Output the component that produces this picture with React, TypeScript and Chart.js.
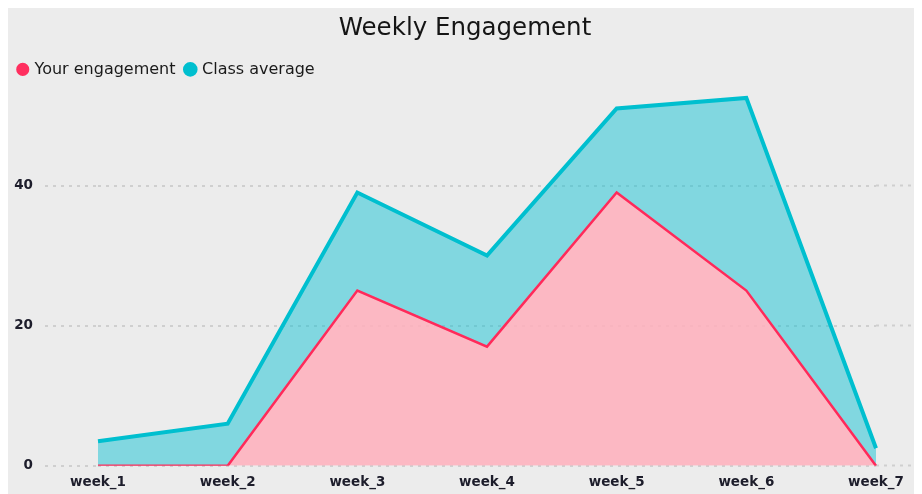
import React, { useEffect, useRef } from "react";
import { Chart, registerables } from "chart.js";

Chart.register(...registerables);

const weeks = ["week_1", "week_2", "week_3", "week_4", "week_5", "week_6", "week_7"];
const yourEngagement = [0, 0, 25, 17, 39, 25, 0];
const classAverage = [3.5, 6, 39, 30, 51, 52.5, 2.5];
const yMax = 54;
const yStep = 20;

const FONT = "'DejaVu Sans', Verdana, sans-serif";
const gridColor = "#cfcfcf";
const dash = [3, 5];

export default function App() {
  const ref = useRef<HTMLCanvasElement | null>(null);

  useEffect(() => {
    if (!ref.current) return;
    const chart = new Chart(ref.current, {
      type: "line",
      data: {
        labels: weeks,
        datasets: [
          {
            label: "Your engagement",
            data: yourEngagement,
            borderColor: "#ff2a5a",
            backgroundColor: "rgba(255, 175, 188, 0.85)",
            pointBackgroundColor: "#ff2f5f",
            pointBorderColor: "#ff2f5f",
            borderWidth: 2.5,
            pointRadius: 0,
            tension: 0,
            fill: "origin",
            yAxisID: "y",
          },
          {
            label: "Class average",
            data: classAverage,
            borderColor: "#00bfcf",
            backgroundColor: "rgba(0, 190, 210, 0.45)",
            pointBackgroundColor: "#00bfcf",
            pointBorderColor: "#00bfcf",
            borderWidth: 4,
            pointRadius: 0,
            tension: 0,
            fill: "-1",
            yAxisID: "y",
          },
        ],
      },
      options: {
        responsive: false,
        animation: false,
        layout: { padding: { left: 0, right: 0, top: 0, bottom: -6 } },
        plugins: {
          title: {
            display: true,
            text: "Weekly Engagement",
            color: "#151515",
            font: { family: FONT, size: 24.5, weight: "normal" },
            padding: { top: 6, bottom: 7 },
          },
          legend: {
            display: true,
            position: "top",
            align: "start",
            labels: {
              usePointStyle: true,
              pointStyle: "circle",
              boxWidth: 7.5,
              boxHeight: 7.5,
              padding: 11,
              color: "#1a1a1a",
              font: { family: FONT, size: 16 },
            },
          },
          tooltip: { enabled: false },
        },
        scales: {
          x: {
            type: "category",
            offset: false,
            grid: { display: false, drawTicks: false },
            border: { display: false },
            ticks: {
              color: "#1d1d2b",
              font: { family: FONT, size: 13.5, weight: "bold" },
              padding: 9,
              maxRotation: 0,
              autoSkip: false,
            },
          },
          y: {
            position: "left",
            min: 0,
            max: yMax,
            border: { display: false, dash: dash },
            grid: {
              color: gridColor,
              lineWidth: 2,
              tickLength: 53,
              tickColor: gridColor,
              tickWidth: 2,
              tickBorderDash: dash,
            },
            ticks: {
              stepSize: yStep,
              includeBounds: false,
              color: "#1d1d2b",
              font: { family: FONT, size: 13.5, weight: "bold" },
              padding: 12,
            },
            afterFit: (s: any) => {
              s.width = 90;
            },
          } as any,
          y1: {
            position: "right",
            min: 0,
            max: yMax,
            border: { display: false, dash: dash },
            grid: {
              drawOnChartArea: false,
              tickLength: 44,
              tickColor: gridColor,
              tickWidth: 2,
              tickBorderDash: dash,
            },
            ticks: { display: false, stepSize: yStep, includeBounds: false },
            afterFit: (s: any) => {
              s.width = 46;
            },
          } as any,
        },
      },
    } as any);
    return () => chart.destroy();
  }, []);

  return (
    <div style={{ width: 914, height: 486, background: "#ececec" }}>
      <canvas ref={ref} width={914} height={486} style={{ display: "block" }} />
    </div>
  );
}
